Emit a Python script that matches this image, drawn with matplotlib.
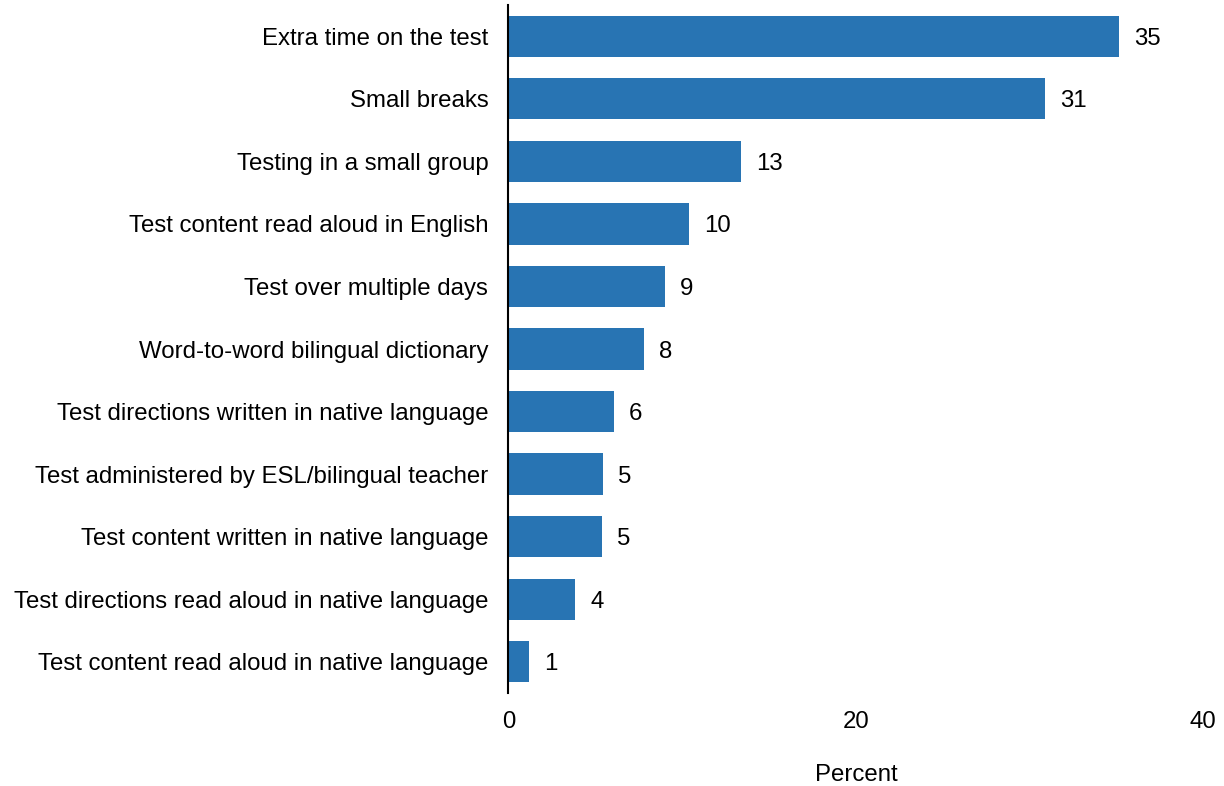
import matplotlib.pyplot as plt

plt.rcParams['font.family'] = ['Liberation Sans', 'DejaVu Sans']

categories = [
    'Extra time on the test',
    'Small breaks',
    'Testing in a small group',
    'Test content read aloud in English',
    'Test over multiple days',
    'Word-to-word bilingual dictionary',
    'Test directions written in native language',
    'Test administered by ESL/bilingual teacher',
    'Test content written in native language',
    'Test directions read aloud in native language',
    'Test content read aloud in native language',
]
percent = [35.15, 30.9, 13.4, 10.4, 9.0, 7.8, 6.05, 5.45, 5.4, 3.85, 1.2]
xticks = [0, 20, 40]

fs = 17.25

fig = plt.figure(figsize=(12.24, 7.86), dpi=100)
ax = fig.add_axes([0.4154, 0.1183, 0.983 - 0.4154, 0.9936 - 0.1183])

pos = list(range(len(categories)))
ax.barh(pos, percent, height=0.66, color='#2874b3')
for y, v in zip(pos, percent):
    ax.text(v + 0.85, y, f'{v:.0f}', va='center_baseline', ha='left', fontsize=fs)

ax.set_ylim(len(categories) - 0.5, -0.5)
ax.set_xlim(0, 40)
ax.set_yticks(pos)
ax.set_yticklabels(categories, fontsize=fs)
ax.set_xticks(xticks)
ax.set_xticklabels([str(t) for t in xticks], fontsize=fs)
ax.tick_params(axis='both', length=0)
ax.tick_params(axis='y', pad=14.5)
ax.tick_params(axis='x', pad=13)

for s in ['top', 'right', 'bottom']:
    ax.spines[s].set_visible(False)
ax.spines['left'].set_linewidth(1.5)
ax.spines['left'].set_color('black')

ax.set_xlabel('Percent', fontsize=fs, labelpad=22)

fig.savefig('out.png', dpi=100)
